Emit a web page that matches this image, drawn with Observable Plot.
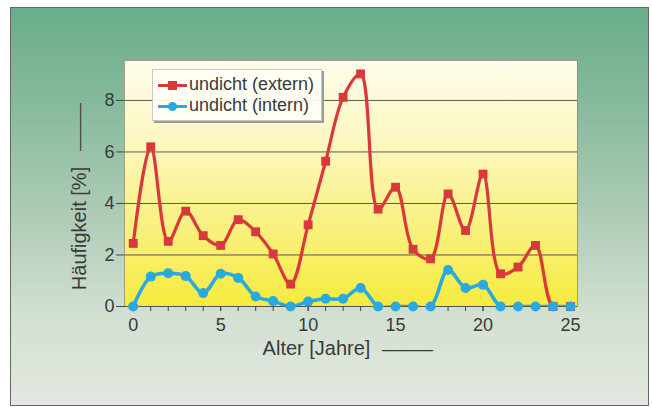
<!DOCTYPE html>
<html><head><meta charset="utf-8">
<script src="https://cdn.jsdelivr.net/npm/d3@7"></script>
<script src="https://cdn.jsdelivr.net/npm/@observablehq/plot@0.6"></script>
<style>
body{margin:0;background:#fff;}
#wrap{position:relative;width:652px;height:407px;overflow:hidden;font-family:"Liberation Sans",Arial,sans-serif;}
#panel{position:absolute;left:10px;top:7px;width:637px;height:397px;border:1.5px solid #666;
  background:linear-gradient(to bottom,#68ad8b 0%,#84b99b 22%,#abcab4 50%,#d3e0d2 78%,#e2e8e0 100%);}
#area{position:absolute;left:124px;top:60px;width:453px;height:246px;
  background:linear-gradient(to bottom,#fefcec 0%,#fcf8c6 30%,#f9f184 65%,#f6eb3e 100%);}
#chart{position:absolute;left:0;top:0;}
#legend{position:absolute;left:152px;top:69px;width:168px;height:50px;background:rgba(255,254,244,0.92);
  border:1px solid #c8c8c8;box-shadow:2px 2px 0 #9a9a9a;font-size:18px;color:#3a3a3a;}
#legend .row{position:absolute;left:5px;height:20px;line-height:20px;white-space:nowrap;}
#legend svg{vertical-align:middle;margin-right:2px;}
</style></head>
<body>
<div id="wrap">
  <div id="panel"></div>
  <div id="area"></div>
  <div id="chart"></div>
  <div id="legend"></div>
</div>
<script>
const years = [0,1,2,3,4,5,6,7,8,9,10,11,12,13,14,15,16,17,18,19,20,21,22,23,24,25];
const extern = [2.45,6.2,2.53,3.7,2.75,2.37,3.37,2.9,2.04,0.87,3.17,5.64,8.12,9.03,3.78,4.63,2.22,1.85,4.37,2.95,5.14,1.27,1.53,2.37,0,0];
const intern = [0,1.16,1.29,1.18,0.52,1.27,1.11,0.39,0.21,0,0.19,0.3,0.3,0.72,0,0,0,0,1.42,0.72,0.84,0,0,0,0,0];
const seriesNames = ["undicht (extern)", "undicht (intern)"];
const seriesColors = ["#d9383c", "#2aa9e0"];
const yTicks = [0,2,4,6,8];
const yGrid = [2,4,6,8];
const xMajor = [0,5,10,15,20,25];
const xLabel = "Alter [Jahre]";
const yLabel = "Häufigkeit [%]";
const dash = "———";

const ext = years.map((x,i) => ({x, y: extern[i]}));
const int = years.map((x,i) => ({x, y: intern[i]}));

const plot = Plot.plot({
  width: 652, height: 407,
  marginLeft: 124, marginRight: 75, marginTop: 60, marginBottom: 101,
  style: {background: "transparent", fontFamily: "'Liberation Sans', Arial, sans-serif", fontSize: "18px", color: "#3a3a3a"},
  x: {domain: [-0.5, 25.4]},
  y: {domain: [0, 9.55]},
  marks: [
    Plot.ruleY(yGrid, {stroke: "#5a5a50", strokeWidth: 1}),
    Plot.frame({stroke: "#8a8a7a", strokeWidth: 0.8}),
    Plot.ruleY([0], {stroke: "#555", strokeWidth: 1.2}),
    Plot.axisY({ticks: yTicks, tickSize: 8, tickPadding: 2, label: null, fontSize: 18, stroke: "#444"}),
    Plot.axisX({ticks: years, tickSize: 5, tickFormat: () => "", label: null, stroke: "#444"}),
    Plot.axisX({ticks: xMajor, tickSize: 5, tickPadding: 7, label: null, fontSize: 18, stroke: "#444"}),
    Plot.line(ext, {x: "x", y: "y", stroke: seriesColors[0], strokeWidth: 3.2, curve: "catmull-rom", clip: true}),
    Plot.dot(ext, {x: "x", y: "y", symbol: "square", r: 5, fill: seriesColors[0], stroke: "none"}),
    Plot.line(int, {x: "x", y: "y", stroke: seriesColors[1], strokeWidth: 3.6, curve: "catmull-rom", clip: true}),
    Plot.dot(int, {x: "x", y: "y", symbol: "circle", r: 5, fill: seriesColors[1], stroke: "none"}),
    Plot.text([xLabel], {frameAnchor: "bottom", textAnchor: "middle", dx: -34.5, dy: 48, fontSize: 20, fill: "#3a3a3a"}),
    Plot.text([dash], {frameAnchor: "bottom", textAnchor: "middle", dx: 56.5, dy: 48, fontSize: 17, fill: "#3a3a3a"}),
    Plot.text([yLabel], {frameAnchor: "left", textAnchor: "middle", rotate: -90, dx: -45, dy: 45, fontSize: 20, fill: "#3a3a3a"}),
    Plot.text([dash], {frameAnchor: "left", textAnchor: "middle", rotate: -90, dx: -45, dy: -56.5, fontSize: 16, fill: "#3a3a3a"})
  ]
});
document.getElementById("chart").appendChild(plot);

const legend = document.getElementById("legend");
seriesNames.forEach((name, i) => {
  const row = document.createElement("div");
  row.className = "row";
  row.style.top = (i === 0 ? 4 : 25) + "px";
  const sym = i === 0
    ? `<rect x="10" y="5" width="9" height="9" fill="${seriesColors[i]}"/>`
    : `<circle cx="14.5" cy="9.5" r="4.5" fill="${seriesColors[i]}"/>`;
  row.innerHTML = `<svg width="29" height="19"><line x1="0" x2="29" y1="9.5" y2="9.5" stroke="${seriesColors[i]}" stroke-width="3"/>${sym}</svg>${name}`;
  legend.appendChild(row);
});
</script>
</body></html>
